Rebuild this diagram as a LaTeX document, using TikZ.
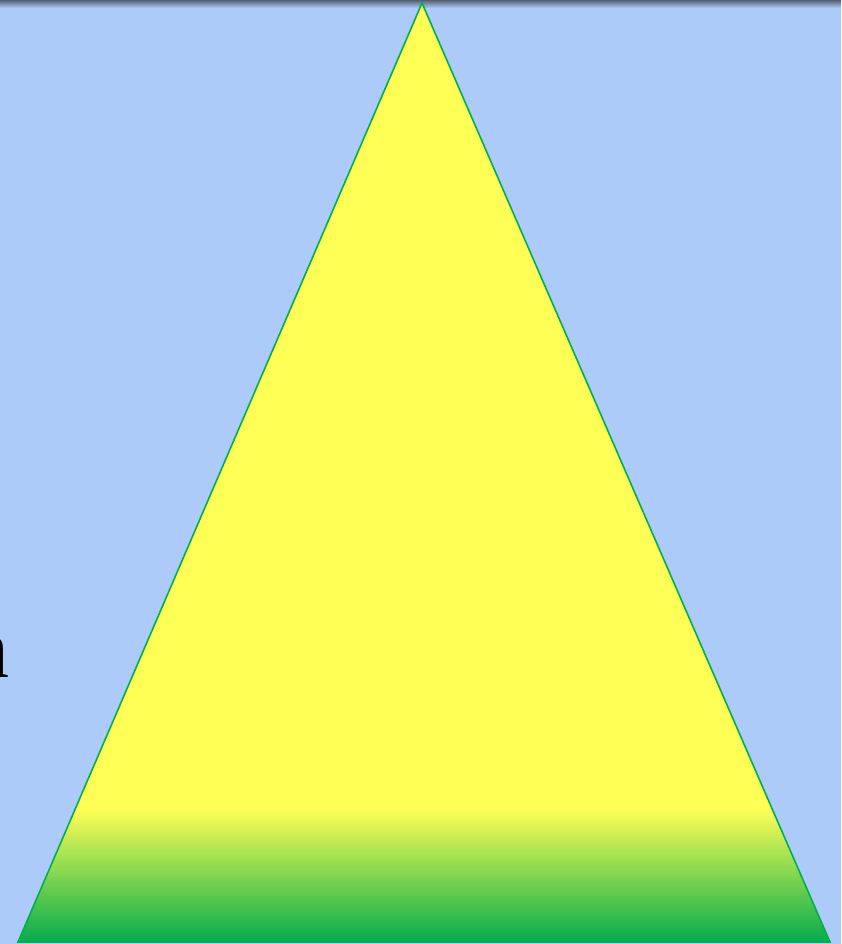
\documentclass[tikz,border=0pt]{standalone}
\usepackage{fontspec}
\setmainfont{Liberation Serif}
\definecolor{bgblue}{RGB}{173,203,248}
\definecolor{triyellow}{RGB}{255,255,85}
\definecolor{trigreen}{RGB}{0,170,76}
\definecolor{edgegreen}{RGB}{0,176,80}
\definecolor{topshade}{RGB}{85,95,115}
\tikzset{
  tri/.style={draw=edgegreen, line width=1.6pt, line join=miter},
  labeltext/.style={inner sep=0pt, font=\fontsize{86}{86}\selectfont, text=black}
}
\begin{document}
\begin{tikzpicture}[x=1pt,y=-1pt]
\useasboundingbox (0,0) rectangle (841,944);
\fill[bgblue] (0,0) rectangle (841,944);
\shade[top color=topshade, bottom color=bgblue] (0,0) rectangle (841,8);
\coordinate (apex) at (422,3);
\coordinate (bl) at (18,942);
\coordinate (br) at (830,942);
\begin{scope}
  \clip (apex) -- (bl) -- (br) -- cycle;
  \fill[triyellow] (0,0) rectangle (841,944);
  \shade[top color=triyellow, bottom color=trigreen] (0,808) rectangle (841,944);
\end{scope}
\draw[tri] (apex) -- (bl) -- (br) -- cycle;
\node[labeltext, anchor=base east] (lbl) at (10,677) {n};
\end{tikzpicture}
\end{document}
